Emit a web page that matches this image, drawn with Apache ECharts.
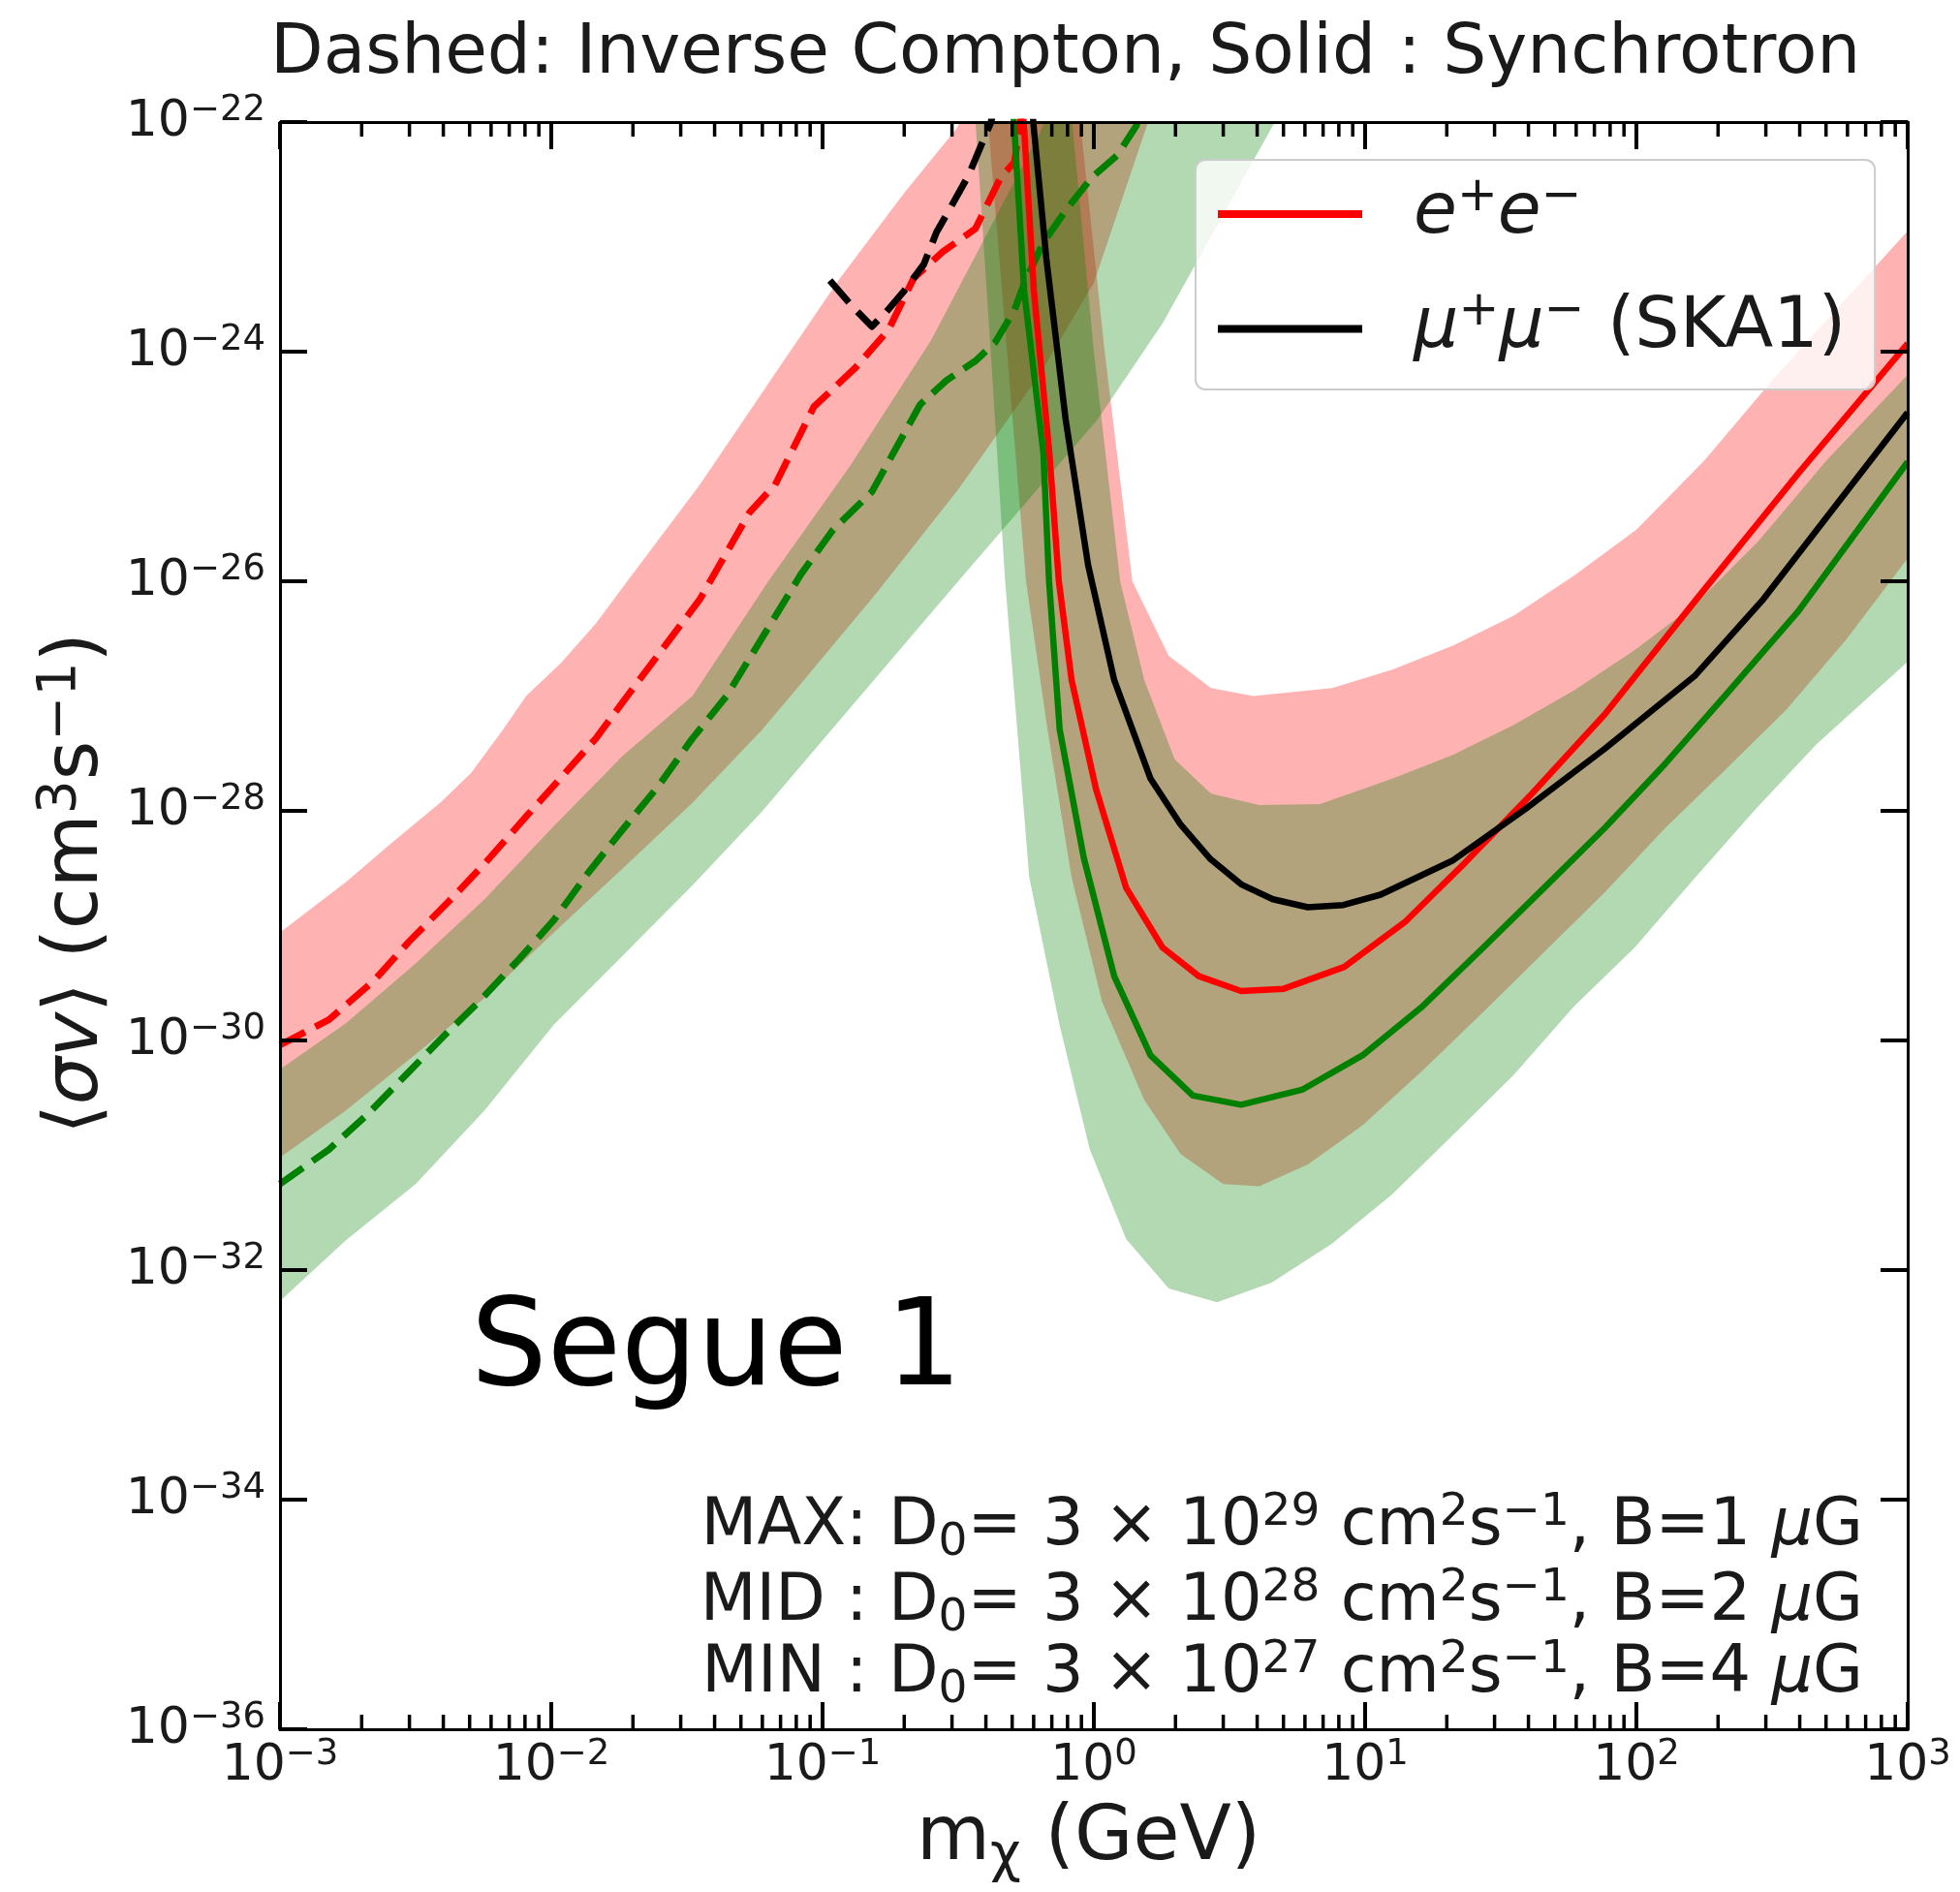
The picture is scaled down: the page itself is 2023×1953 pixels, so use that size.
<!DOCTYPE html>
<html>
<head>
<meta charset="utf-8">
<title>Segue 1 — annihilation cross-section limits</title>
<script src="https://cdn.jsdelivr.net/npm/echarts@6.0.0/dist/echarts.min.js"></script>
<style>
  html, body { margin: 0; padding: 0; background: #ffffff; }
  #chart { width: 2023px; height: 1953px; }
</style>
</head>
<body>
<div id="chart"></div>
<script>
// Both axes are logarithmic: every curve is a list of
// [log10(m_chi / GeV), log10(<sigma v> / cm^3 s^-1)] pairs, plotted on decade axes.

// ---- Inverse Compton limits (dashed) ----
const icRedLine = [[-3.0,-30.04],[-2.82,-29.82],[-2.654,-29.48],[-2.525,-29.14],[-2.37,-28.77],[-2.246,-28.46],[-2.093,-28.05],[-1.964,-27.71],[-1.836,-27.37],[-1.72,-27.0],[-1.453,-26.16],[-1.269,-25.4],[-1.175,-25.16],[-1.032,-24.48],[-0.879,-24.14],[-0.757,-23.81],[-0.664,-23.36],[-0.557,-23.13],[-0.437,-22.93],[-0.343,-22.48],[-0.293,-22.35],[-0.271,-22.0],[-0.26,-21.8]];
const icGreenLine = [[-3.0,-31.25],[-2.82,-30.95],[-2.68,-30.65],[-2.54,-30.31],[-2.4,-29.97],[-2.27,-29.67],[-2.118,-29.29],[-1.99,-28.95],[-1.864,-28.54],[-1.736,-28.16],[-1.607,-27.79],[-1.48,-27.37],[-1.354,-27.0],[-1.08,-25.94],[-0.961,-25.55],[-0.818,-25.22],[-0.64,-24.46],[-0.543,-24.25],[-0.436,-24.08],[-0.364,-23.92],[-0.293,-23.64],[-0.257,-23.41],[-0.186,-23.05],[-0.104,-22.77],[-0.007,-22.48],[0.086,-22.29],[0.157,-22.03],[0.17,-21.9]];
const icBlackLine = [[-0.973,-23.38],[-0.889,-23.61],[-0.818,-23.78],[-0.764,-23.65],[-0.699,-23.47],[-0.627,-23.24],[-0.58,-22.96],[-0.52,-22.71],[-0.461,-22.46],[-0.401,-22.12],[-0.379,-22.0],[-0.37,-21.9]];

const icRedBandHigh = [[-3.0,-29.06],[-2.757,-28.62],[-2.589,-28.28],[-2.41,-27.93],[-2.296,-27.67],[-2.18,-27.30],[-2.093,-27.0],[-1.964,-26.71],[-1.836,-26.37],[-1.72,-26.0],[-1.453,-25.16],[-1.269,-24.52],[-1.175,-24.19],[-0.936,-23.36],[-0.70,-22.62],[-0.507,-22.06],[-0.45,-21.8]];
const icRedBandLow = [[-3.0,-31.02],[-2.757,-30.61],[-2.5,-30.12],[-2.246,-29.63],[-1.99,-29.06],[-1.736,-28.5],[-1.48,-27.93],[-1.225,-27.3],[-1.1,-26.95],[-0.8,-26.1],[-0.5,-25.2],[-0.2,-24.2],[0.0,-23.4],[0.2,-22.0],[0.3,-21.6]];
const icGreenBandHigh = [[-3.0,-30.25],[-2.757,-29.85],[-2.5,-29.33],[-2.246,-28.77],[-1.99,-28.13],[-1.736,-27.52],[-1.48,-27.0],[-1.2,-26.0],[-0.9,-25.0],[-0.6,-23.9],[-0.4,-23.0],[-0.2,-22.1],[-0.15,-21.8]];
const icGreenBandLow = [[-3.0,-32.27],[-2.757,-31.74],[-2.5,-31.25],[-2.246,-30.61],[-1.99,-29.86],[-1.736,-29.26],[-1.48,-28.65],[-1.225,-28.01],[-1.02,-27.44],[-0.5,-26.0],[0.014,-24.59],[0.254,-23.75],[0.667,-22.0],[0.75,-21.7]];

// ---- Synchrotron limits (solid) ----
const synRedLine = [[-0.265,-21.8],[-0.257,-22.06],[-0.221,-23.47],[-0.164,-24.88],[-0.129,-26.0],[-0.082,-26.86],[0.008,-27.81],[0.119,-28.67],[0.253,-29.19],[0.387,-29.44],[0.543,-29.57],[0.70,-29.55],[0.923,-29.36],[1.146,-28.97],[1.369,-28.45],[1.615,-27.85],[1.883,-27.16],[2.217,-26.17],[2.6,-25.05],[3.0,-23.93]];
const synGreenLine = [[-0.3,-21.8],[-0.293,-22.06],[-0.257,-23.47],[-0.186,-24.88],[-0.165,-26.0],[-0.126,-27.29],[-0.037,-28.41],[0.075,-29.44],[0.209,-30.13],[0.365,-30.48],[0.543,-30.56],[0.767,-30.43],[0.99,-30.13],[1.213,-29.70],[1.436,-29.19],[1.66,-28.67],[1.883,-28.15],[2.106,-27.59],[2.329,-26.99],[2.597,-26.26],[3.0,-24.96]];
const synBlackLine = [[-0.23,-21.8],[-0.221,-22.06],[-0.175,-23.19],[-0.104,-24.59],[-0.021,-25.86],[0.075,-26.86],[0.209,-27.72],[0.32,-28.12],[0.43,-28.42],[0.543,-28.64],[0.66,-28.77],[0.789,-28.84],[0.92,-28.82],[1.057,-28.73],[1.325,-28.43],[1.593,-27.98],[1.883,-27.46],[2.217,-26.82],[2.463,-26.17],[3.0,-24.53]];

const synRedBandHigh = [[-0.07,-21.8],[-0.05,-22.0],[0.04,-24.0],[0.142,-26.0],[0.276,-26.65],[0.432,-26.93],[0.588,-27.0],[0.878,-26.93],[1.1,-26.77],[1.325,-26.56],[1.548,-26.3],[1.771,-25.95],[2.0,-25.55],[2.25,-24.95],[2.5,-24.25],[2.75,-23.6],[3.0,-22.95]];
const synRedBandLow = [[-0.40,-21.8],[-0.39,-22.0],[-0.32,-24.0],[-0.25,-26.0],[-0.171,-27.29],[-0.082,-28.58],[0.03,-29.66],[0.186,-30.52],[0.32,-30.99],[0.477,-31.25],[0.61,-31.27],[0.789,-31.08],[0.99,-30.74],[1.213,-30.26],[1.436,-29.75],[1.66,-29.23],[1.883,-28.71],[2.106,-28.15],[2.329,-27.64],[2.552,-27.12],[2.776,-26.5],[3.0,-25.8]];
const synGreenBandHigh = [[-0.09,-21.8],[-0.08,-22.0],[0.0,-24.0],[0.097,-26.0],[0.186,-26.86],[0.298,-27.55],[0.432,-27.85],[0.61,-27.95],[0.834,-27.94],[1.1,-27.72],[1.325,-27.51],[1.548,-27.25],[1.771,-26.95],[1.994,-26.6],[2.217,-26.2],[2.45,-25.65],[2.7,-24.95],[3.0,-24.2]];
const synGreenBandLow = [[-0.44,-21.8],[-0.436,-22.0],[-0.38,-24.0],[-0.327,-26.0],[-0.238,-28.58],[-0.126,-29.87],[-0.015,-30.95],[0.119,-31.73],[0.276,-32.16],[0.454,-32.28],[0.655,-32.11],[0.878,-31.77],[1.1,-31.34],[1.325,-30.82],[1.548,-30.30],[1.771,-29.70],[1.994,-29.19],[2.217,-28.58],[2.441,-27.98],[2.664,-27.42],[3.0,-26.7]];

// ---- Axis decades ----
const massDecades = [-3, 3];        // 10^-3 ... 10^3 GeV
const sigmaDecades = [-36, -22];    // 10^-36 ... 10^-22 cm^3 s^-1
const minorMultipliers = [2, 3, 4, 5, 6, 7, 8, 9];

// ---- Text ----
const titleText = 'Dashed: Inverse Compton, Solid : Synchrotron';
const targetName = 'Segue 1';
const setupTags = ['MAX:', 'MID :', 'MIN :'];
const setupD0Exponents = [29, 28, 27];
const setupFieldMicroGauss = [1, 2, 4];

const FONT = 'DejaVu Sans';
const INK = '#1a1a1a';
const RED = '#ff0000', GREEN = '#008000', BLACK = '#000000';
const RED_FILL = 'rgba(255,0,0,0.3)', GREEN_FILL = 'rgba(0,128,0,0.3)';
const MINUS = '\u2212';

const GRID = { left: 289, top: 126, width: 1680, height: 1659 };
const MAJOR_LEN = 28, MINOR_LEN = 15;

function powerLabel(v) {
  const e = Math.round(v);
  return '{b|10}{s|' + (e < 0 ? MINUS : '') + Math.abs(e) + '}';
}

const tickRich = {
  b: { fontFamily: FONT, fontSize: 52, color: INK, lineHeight: 60 },
  s: { fontFamily: FONT, fontSize: 37, color: INK, lineHeight: 28, verticalAlign: 'top' }
};

function bandSeries(name, high, low, fill) {
  const outline = high.concat(low.slice().reverse());
  return {
    type: 'custom', name: name, silent: true, clip: true, z: 1,
    data: [[0, -30]],
    renderItem: function (params, api) {
      return {
        type: 'polygon',
        shape: { points: outline.map(p => api.coord(p)) },
        style: { fill: fill, stroke: null }
      };
    }
  };
}

function lineSeries(name, pts, color, width, dash) {
  return {
    type: 'line', name: name, data: pts, color: color,
    showSymbol: false, symbol: 'none', clip: true, z: 3, silent: true,
    lineStyle: { color: color, width: width, type: dash || 'solid', cap: 'butt', join: 'round' }
  };
}

// Tick marks on the bottom and top mass axes, drawn as short broken line segments.
const pxPerDecadeY = GRID.height / (sigmaDecades[1] - sigmaDecades[0]);
const massMinorTicks = [];
for (let d = massDecades[0]; d < massDecades[1]; d++) {
  minorMultipliers.forEach(k => massMinorTicks.push(d + Math.log10(k)));
}
const massMajorTicks = [];
for (let d = massDecades[0] + 1; d < massDecades[1]; d++) massMajorTicks.push(d);

function tickSegments(positions, lenPx) {
  const out = [];
  const dy = lenPx / pxPerDecadeY;
  positions.forEach(p => {
    out.push([p, sigmaDecades[0]], [p, sigmaDecades[0] + dy], [p, null]);
    out.push([p, sigmaDecades[1]], [p, sigmaDecades[1] - dy], [p, null]);
  });
  return out;
}

function tickSeries(name, data, width) {
  return {
    type: 'line', name: name, data: data, connectNulls: false,
    showSymbol: false, symbol: 'none', clip: false, z: 12, silent: true,
    lineStyle: { color: '#000', width: width, type: 'solid', cap: 'butt' }
  };
}

const axisLine = { show: true, onZero: false, lineStyle: { color: '#000', width: 3 } };

const xAxisCommon = {
  type: 'value', min: massDecades[0], max: massDecades[1], interval: 1,
  gridIndex: 0, z: 10, axisLine: axisLine,
  axisTick: { show: true, inside: true, length: MAJOR_LEN, lineStyle: { color: '#000', width: 4 } },
  splitLine: { show: false }, minorTick: { show: false }
};
const yAxisCommon = {
  type: 'value', min: sigmaDecades[0], max: sigmaDecades[1], interval: 2,
  gridIndex: 0, z: 10, axisLine: axisLine,
  axisTick: { show: true, inside: true, length: MAJOR_LEN, lineStyle: { color: '#000', width: 4 } },
  splitLine: { show: false }, minorTick: { show: false }
};

const chart = echarts.init(document.getElementById('chart'), null, { renderer: 'canvas' });

const setupLines = setupTags.map((tag, i) =>
  tag + ' D{sub|0}= 3 \u00d7 10{sup|' + setupD0Exponents[i] + '} cm{sup|2}s{sup|' + MINUS + '1}, B=' +
  setupFieldMicroGauss[i] + ' {it|\u03bc}G');

const annoRich = {
  sup: { fontFamily: FONT, fontSize: 47, color: INK, lineHeight: 34, verticalAlign: 'top' },
  sub: { fontFamily: FONT, fontSize: 47, color: INK, lineHeight: 34, verticalAlign: 'bottom' },
  it: { fontFamily: FONT, fontSize: 67, fontStyle: 'italic', color: INK, lineHeight: 78 }
};

const textGraphics = [
  { type: 'text', x: 279, y: 57, silent: true,
    style: { text: titleText, fontFamily: FONT, fontSize: 71, fill: INK,
             align: 'left', verticalAlign: 'middle', textAlign: 'left', textVerticalAlign: 'middle' } },
  { type: 'text', x: 946, y: 1899, silent: true,
    style: { text: 'm{sub|\u03c7} (GeV)', fontFamily: FONT, fontSize: 78, fill: INK, lineHeight: 90,
             align: 'left', verticalAlign: 'middle', textAlign: 'left', textVerticalAlign: 'middle',
             rich: { sub: { fontFamily: FONT, fontSize: 55, fill: INK, color: INK, lineHeight: 44, verticalAlign: 'bottom' } } } },
  { type: 'text', x: 80, y: 912, rotation: Math.PI / 2, silent: true,
    style: { text: '\u27e8{it|\u03c3v}\u27e9 (cm{sup|3}s{sup|' + MINUS + '1})', fontFamily: FONT, fontSize: 78, fill: INK, lineHeight: 90,
             align: 'center', verticalAlign: 'middle', textAlign: 'center', textVerticalAlign: 'middle',
             rich: {
               it: { fontFamily: FONT, fontSize: 78, fontStyle: 'italic', color: INK, lineHeight: 90 },
               sup: { fontFamily: FONT, fontSize: 55, color: INK, lineHeight: 42, verticalAlign: 'top' }
             } } },
  { type: 'text', x: 486, y: 1397, silent: true, z: 20,
    style: { text: targetName, fontFamily: FONT, fontSize: 124, fill: '#000',
             align: 'left', verticalAlign: 'middle', textAlign: 'left', textVerticalAlign: 'middle' } }
].concat(setupLines.map((txt, i) => ({
  type: 'text', x: 1923, y: [1577, 1655, 1729][i], silent: true, z: 20,
  style: { text: txt, fontFamily: FONT, fontSize: 67, fill: INK, lineHeight: 78,
           align: 'right', verticalAlign: 'middle', textAlign: 'right', textVerticalAlign: 'middle', rich: annoRich }
})));

const option = {
  animation: false,
  backgroundColor: '#ffffff',
  grid: { left: GRID.left, top: GRID.top, width: GRID.width, height: GRID.height, containLabel: false },
  xAxis: [
    Object.assign({}, xAxisCommon, {
      position: 'bottom',
      axisLabel: { show: true, margin: 8, formatter: powerLabel, rich: tickRich, showMinLabel: true, showMaxLabel: true }
    }),
    Object.assign({}, xAxisCommon, { position: 'top', axisLabel: { show: false } })
  ],
  yAxis: [
    Object.assign({}, yAxisCommon, {
      position: 'left',
      axisLabel: { show: true, margin: 15, formatter: powerLabel, rich: tickRich, showMinLabel: true, showMaxLabel: true }
    }),
    Object.assign({}, yAxisCommon, { position: 'right', axisLabel: { show: false } })
  ],
  legend: {
    show: true, orient: 'vertical', left: 1234, top: 165,
    padding: [14, 30, 26, 23], itemGap: 40, itemWidth: 149, itemHeight: 8,
    icon: 'rect', selectedMode: false,
    backgroundColor: 'rgba(255,255,255,0.8)', borderColor: '#cccccc', borderWidth: 2, borderRadius: 10,
    data: ['ee', 'mumu'],
    formatter: function (name) {
      return name === 'ee'
        ? '{g|}{it|e}{sup|+}{it|e}{sup|' + MINUS + '}'
        : '{g|}{it|\u03bc}{sup|+}{it|\u03bc}{sup|' + MINUS + '}{n| (SKA1)}';
    },
    textStyle: {
      fontFamily: FONT, fontSize: 73, color: INK,
      rich: {
        g: { width: 48 },
        it: { fontFamily: FONT, fontSize: 73, fontStyle: 'italic', color: INK, lineHeight: 84 },
        n: { fontFamily: FONT, fontSize: 73, color: INK, lineHeight: 84 },
        sup: { fontFamily: FONT, fontSize: 50, color: INK, lineHeight: 42, verticalAlign: 'top' }
      }
    }
  },
  graphic: textGraphics,
  series: [
    bandSeries('icRedBand', icRedBandHigh, icRedBandLow, RED_FILL),
    bandSeries('synRedBand', synRedBandHigh, synRedBandLow, RED_FILL),
    bandSeries('icGreenBand', icGreenBandHigh, icGreenBandLow, GREEN_FILL),
    bandSeries('synGreenBand', synGreenBandHigh, synGreenBandLow, GREEN_FILL),
    lineSeries('icRed', icRedLine, RED, 7, [29, 12]),
    lineSeries('icGreen', icGreenLine, GREEN, 7, [29, 12]),
    lineSeries('icBlack', icBlackLine, BLACK, 7, [30, 13]),
    lineSeries('ee', synRedLine, RED, 6.5),
    lineSeries('synGreen', synGreenLine, GREEN, 6.5),
    lineSeries('mumu', synBlackLine, BLACK, 6.5),
    tickSeries('majorMassTicks', tickSegments(massMajorTicks, MAJOR_LEN), 4),
    tickSeries('minorMassTicks', tickSegments(massMinorTicks, MINOR_LEN), 3.5)
  ]
};

chart.setOption(option);
</script>
</body>
</html>
